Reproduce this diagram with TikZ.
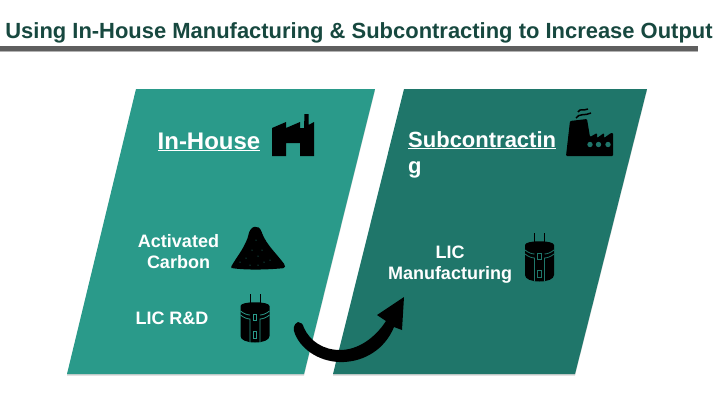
\documentclass[tikz,border=0pt]{standalone}
\usepackage{fontspec}
\setmainfont{Liberation Sans}
\usetikzlibrary{arrows.meta,shadows}
\definecolor{lefteal}{HTML}{2A9A8A}
\definecolor{rigteal}{HTML}{1F766A}
\definecolor{titlegreen}{HTML}{17483F}
\definecolor{rulegrey}{HTML}{5F5F5F}
\tikzset{
  panelL/.style={fill=lefteal,draw=none,drop shadow={shadow xshift=0pt,shadow yshift=-1.5pt,opacity=.35}},
  panelR/.style={fill=rigteal,draw=none,drop shadow={shadow xshift=0pt,shadow yshift=-1.5pt,opacity=.35}},
  head/.style={text=white,font=\bfseries\fontsize{22}{26}\selectfont,inner sep=0pt},
  lab/.style={text=white,font=\bfseries\fontsize{18}{21}\selectfont,align=center,inner sep=0pt},
  capacitor/.pic={
    \fill[black] (-14.5,-12) .. controls (-14.5,-17) and (14.5,-17) .. (14.5,-12) -- (14.5,-2) -- (14.5,18) .. controls (14.5,22) and (8,24.5) .. (0,24.5) .. controls (-8,24.5) and (-14.5,22) .. (-14.5,18) -- cycle;
    \draw[black,line width=1pt] (-5,-24) -- (-5,-13) (5,-24) -- (5,-13);
    \draw[tealc,line width=.8pt] (-14.5,-7) .. controls (-11,-4) and (-7,-3) .. (-5,-3) (14.5,-7) .. controls (11,-4) and (7,-3) .. (5,-3);
    \draw[tealc,line width=.8pt] (-14.5,-3) .. controls (-11,0) and (-7,1) .. (-5,1) -- (-5,24) (14.5,-3) .. controls (11,0) and (7,1) .. (5,1) -- (5,24);
    \draw[tealc,line width=.9pt] (-1.7,-3.5) rectangle (1.7,2.5) (-1.7,13) rectangle (1.7,20);
  },
}
\begin{document}
\begin{tikzpicture}[x=1pt,y=-1pt]
\useasboundingbox (0,0) rectangle (720,405);
\node[anchor=base,text=titlegreen,font=\bfseries\fontsize{21.95}{26}\selectfont,inner sep=0pt] (title) at (359,38) {Using In-House Manufacturing \& Subcontracting to Increase Output};
\fill[rulegrey] (0,46) rectangle (698,50.5);
\fill[black!30] (0,50.5) rectangle (698,51.5);
\path[panelL] (136,89) -- (375,89) -- (304,374) -- (67,374) -- cycle;
\path[panelR] (404,89) -- (647,89) -- (575,374) -- (333,374) -- cycle;
% In-House
\node[head,anchor=base,font=\bfseries\fontsize{24}{28}\selectfont] (inh) at (209,149) {\underline{In-House}};
\fill[black] (272,156) -- (272,128) -- (286,122) -- (286,128) -- (300,122) -- (300,128) -- (304,128) -- (304.5,114) -- (308.5,114) -- (308.5,125) -- (314,122) -- (314,156) -- (300,156) -- (300,143) -- (286,143) -- (286,156) -- cycle;
% Subcontracting
\node[head,anchor=base west] (sub) at (408,147) {\underline{Subcontractin}};
\node[head,anchor=base west] (subg) at (408,173) {g};
\fill[black,rounded corners=1pt] (566,156) -- (570,121) -- (587,119) -- (590,137) -- (597,133) -- (597,138) -- (604,133) -- (604,138) -- (611,133) -- (613,133) -- (613,156) -- cycle;
\foreach \x in {590,598.5,608}{\fill[rigteal] (\x,144.5) circle (2.7);}
\draw[black,line width=1.5pt] (576,118) .. controls (579,113) and (585,116) .. (591,113);
\draw[black,line width=1.5pt] (578,112) .. controls (580,108) and (584,111) .. (588,109);
% carbon pile
\fill[black,rounded corners=1.5pt] (231,267) .. controls (236,258) and (243,250) .. (248,237) .. controls (250,225) and (259,224) .. (262,233) .. controls (267,245) and (275,252) .. (285,265) -- (285,268) .. controls (265,270) and (245,270) .. (231,268) -- cycle;
\foreach \a/\b in {240/262,246/258,252/250,256/240,258/256,264/262,270/260,250/265,258/265,262/250}{\fill[lefteal] (\a,\b) circle (.5);}
% labels
\node[lab] (ac) at (178.5,252) {Activated\\Carbon};
\node[lab,anchor=base] (rd) at (172,324) {LIC R\&D};
\node[lab] (lic) at (450,265) {LIC\\Manufacturing};
% capacitors
\colorlet{tealc}{lefteal}
\pic at (255,318) {capacitor};
\colorlet{tealc}{rigteal}
\pic at (539.5,257) {capacitor};
% arrow
\fill[black] (298,322) .. controls (293,324) and (293,330) .. (295,334) .. controls (302,351) and (322,363) .. (344,362) .. controls (365,361) and (385,349) .. (394,327) -- (402,330) -- (404,297) -- (377,315) -- (386,321) .. controls (375,338) and (358,350) .. (340,350) .. controls (323,350) and (310,341) .. (304,328) .. controls (303,324) and (301,322) .. (298,322) -- cycle;
\end{tikzpicture}
\end{document}
